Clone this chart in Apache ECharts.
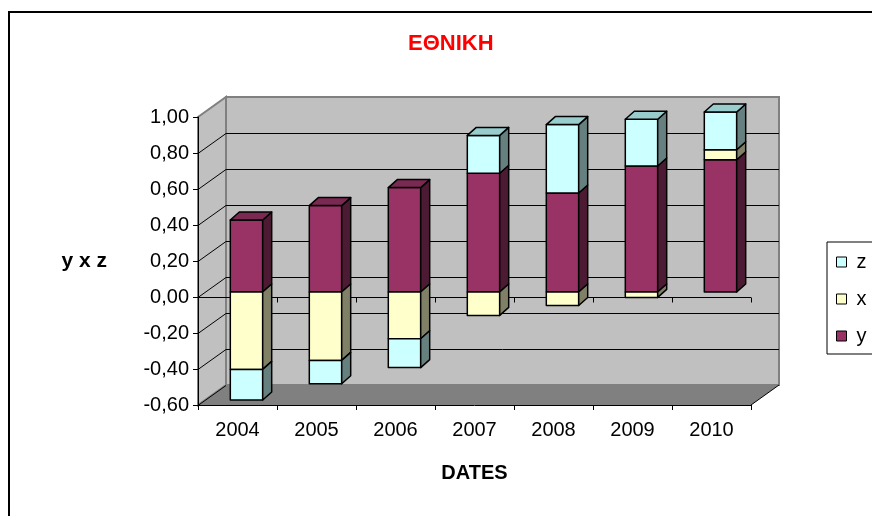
<!DOCTYPE html>
<html>
<head>
<meta charset="utf-8">
<script src="https://cdn.jsdelivr.net/npm/echarts@6/dist/echarts.min.js"></script>
<style>
html,body{margin:0;padding:0;background:#fff;}
#chart{width:872px;height:516px;}
</style>
</head>
<body>
<div id="chart"></div>
<script>
const categories = ['2004', '2005', '2006', '2007', '2008', '2009', '2010'];
const yValues = [0.40, 0.48, 0.58, 0.66, 0.55, 0.70, 0.735];
const xValues = [-0.43, -0.38, -0.26, -0.13, -0.075, -0.03, 0.055];
const zValues = [-0.17, -0.13, -0.16, 0.21, 0.38, 0.26, 0.21];
const yTicks = [-0.6, -0.4, -0.2, 0, 0.2, 0.4, 0.6, 0.8, 1.0];

const FONT = 'Liberation Sans, Arial, sans-serif';
const WALL_DX = 28, WALL_DY = -20;
const BAR_OX = 9, BAR_OY = -5;
const BAR_DX = 9, BAR_DY = -8;
const BAR_RATIO = 0.41;

const seriesDefs = [
  {name: 'y', values: yValues, front: '#993366', side: '#4d1a33', top: '#7a2952'},
  {name: 'x', values: xValues, front: '#ffffcc', side: '#808066', top: '#cccca3'},
  {name: 'z', values: zValues, front: '#ccffff', side: '#668080', top: '#99cccc'}
];

// stacking (positive and negative stacks separately, in series order y, x, z)
const stacked = seriesDefs.map(() => []);
categories.forEach((c, i) => {
  let pos = 0, neg = 0, topIdx = -1;
  seriesDefs.forEach((s, k) => {
    const v = s.values[i];
    let start, end;
    if (v >= 0) { start = pos; end = pos + v; pos = end; if (v > 0) topIdx = k; }
    else { start = neg; end = neg + v; neg = end; }
    stacked[k].push([i, start, end, 0]);
  });
  if (topIdx >= 0) stacked[topIdx][i][3] = 1;
});

function renderWalls(params, api) {
  const cs = params.coordSys;
  const x0 = cs.x, y0 = cs.y, w = cs.width, h = cs.height;
  const dx = WALL_DX, dy = WALL_DY;
  return {type: 'group', children: [
    {type: 'polygon', shape: {points: [[x0 + dx, y0 + dy], [x0 + w + dx, y0 + dy], [x0 + w + dx, y0 + h + dy], [x0 + dx, y0 + h + dy]]},
      style: {fill: '#c0c0c0', stroke: '#808080', lineWidth: 2}},
    {type: 'polygon', shape: {points: [[x0, y0], [x0 + dx, y0 + dy], [x0 + dx, y0 + h + dy], [x0, y0 + h]]},
      style: {fill: '#c0c0c0', stroke: '#808080', lineWidth: 2}},
    {type: 'polygon', shape: {points: [[x0, y0 + h], [x0 + dx, y0 + h + dy], [x0 + w + dx, y0 + h + dy], [x0 + w, y0 + h]]},
      style: {fill: '#808080', stroke: null}},
    {type: 'line', shape: {x1: x0 + w, y1: y0 + h, x2: x0 + w + dx, y2: y0 + h + dy},
      style: {stroke: '#000', lineWidth: 1}}
  ]};
}

function renderGrid(params, api) {
  const cs = params.coordSys;
  const x0 = cs.x, w = cs.width;
  const v = api.value(1);
  const py = Math.round(api.coord([0, v])[1]) + 0.5;
  const children = [];
  if (v < 0.99) {
    children.push({type: 'line', shape: {x1: x0, y1: py, x2: x0 + WALL_DX, y2: py + WALL_DY}, style: {stroke: '#000', lineWidth: 1}});
  }
  if (v > -0.59 && v < 0.99) {
    children.push({type: 'line', shape: {x1: x0 + WALL_DX, y1: py + WALL_DY, x2: x0 + w + WALL_DX, y2: py + WALL_DY}, style: {stroke: '#000', lineWidth: 1}});
  }
  return {type: 'group', children: children};
}

function renderZero(params, api) {
  const cs = params.coordSys;
  const x0 = cs.x, w = cs.width;
  const py = Math.round(api.coord([0, 0])[1]) + 0.5;
  const band = api.size([1, 0])[0];
  const children = [{type: 'line', shape: {x1: x0, y1: py, x2: x0 + w, y2: py}, style: {stroke: '#000', lineWidth: 1}}];
  for (let k = 1; k <= categories.length; k++) {
    const tx = Math.round(x0 + k * band) + 0.5;
    children.push({type: 'line', shape: {x1: tx, y1: py, x2: tx, y2: py + 5}, style: {stroke: '#000', lineWidth: 1}});
  }
  return {type: 'group', children: children};
}

function makeBarRenderer(def) {
  return function (params, api) {
    const i = api.value(0);
    const a = api.coord([i, api.value(1)]);
    const b = api.coord([i, api.value(2)]);
    const isTop = api.value(3) === 1;
    const bw = api.size([1, 0])[0] * BAR_RATIO;
    const cx = a[0] + BAR_OX;
    const l = cx - bw / 2, r = cx + bw / 2;
    const yTop = Math.min(a[1], b[1]) + BAR_OY;
    const yBot = Math.max(a[1], b[1]) + BAR_OY;
    const st = {stroke: '#000', lineWidth: 1.5, lineJoin: 'round'};
    const children = [
      {type: 'rect', shape: {x: l, y: yTop, width: r - l, height: yBot - yTop}, style: Object.assign({fill: def.front}, st)},
      {type: 'polygon', shape: {points: [[r, yTop], [r + BAR_DX, yTop + BAR_DY], [r + BAR_DX, yBot + BAR_DY], [r, yBot]]}, style: Object.assign({fill: def.side}, st)}
    ];
    if (isTop) {
      children.push({type: 'polygon', shape: {points: [[l, yTop], [l + BAR_DX, yTop + BAR_DY], [r + BAR_DX, yTop + BAR_DY], [r, yTop]]}, style: Object.assign({fill: def.top}, st)});
    }
    return {type: 'group', children: children};
  };
}

const chart = echarts.init(document.getElementById('chart'), null, {renderer: 'canvas'});

const series = [
  {type: 'custom', name: '_walls', silent: true, z: 1, data: [[0, 0]], encode: {x: 0, y: 1}, renderItem: renderWalls},
  {type: 'custom', name: '_grid', silent: true, z: 2, data: yTicks.map(v => [0, v]), encode: {x: 0, y: 1}, renderItem: renderGrid},
  {type: 'custom', name: '_zero', silent: true, z: 2, data: [[0, 0]], encode: {x: 0, y: 1}, renderItem: renderZero}
];
seriesDefs.forEach((def, k) => {
  series.push({
    type: 'custom', name: def.name, z: 3,
    itemStyle: {color: def.front, borderColor: '#000', borderWidth: 1},
    data: stacked[k], encode: {x: 0, y: [1, 2]},
    renderItem: makeBarRenderer(def)
  });
});

chart.setOption({
  animation: false,
  backgroundColor: '#ffffff',
  textStyle: {fontFamily: FONT},
  title: {
    text: 'ΕΘΝΙΚΗ', left: 403, top: 28,
    textStyle: {color: '#ff0000', fontSize: 22, fontWeight: 'bold', fontFamily: FONT}
  },
  graphic: [{
    type: 'rect', z: 100, silent: true,
    shape: {x: 9, y: 12, width: 900, height: 600},
    style: {fill: null, stroke: '#000', lineWidth: 2}
  }],
  legend: {
    orient: 'vertical', left: 827, top: 242,
    padding: [10, 30, 8, 9],
    itemWidth: 10, itemHeight: 10, itemGap: 17,
    borderColor: '#000', borderWidth: 1,
    selectedMode: false,
    textStyle: {fontSize: 20, color: '#000', lineHeight: 20, padding: [0, 0, 0, 5], fontFamily: FONT},
    data: seriesDefs.slice().reverse().map(d => ({
      name: d.name, icon: 'rect',
      itemStyle: {color: d.front, borderColor: '#000', borderWidth: 1}
    }))
  },
  grid: {left: 198, right: 121, top: 117, bottom: 111, containLabel: false},
  xAxis: {
    type: 'category', data: categories, boundaryGap: true, z: 5,
    axisLine: {onZero: false, lineStyle: {color: '#000', width: 1}},
    axisTick: {show: true, length: 5, lineStyle: {color: '#000'}},
    axisLabel: {fontSize: 20, color: '#000', margin: 15, fontFamily: FONT},
    splitLine: {show: false},
    name: 'DATES', nameLocation: 'middle', nameGap: 58,
    nameTextStyle: {fontSize: 20, fontWeight: 'bold', color: '#000', fontFamily: FONT}
  },
  yAxis: {
    type: 'value', min: -0.6, max: 1.0, interval: 0.2, z: 5,
    axisLine: {show: true, lineStyle: {color: '#000', width: 1}},
    axisTick: {show: true, length: 5, lineStyle: {color: '#000'}},
    axisLabel: {fontSize: 20, color: '#000', margin: 9, fontFamily: FONT,
      formatter: v => v.toFixed(2).replace('.', ',').replace('-0,00', '0,00')},
    splitLine: {show: false},
    name: 'y x z', nameLocation: 'middle', nameRotate: 0, nameGap: 91,
    nameTextStyle: {fontSize: 21, fontWeight: 'bold', color: '#000', fontFamily: FONT}
  },
  series: series
});
</script>
</body>
</html>
